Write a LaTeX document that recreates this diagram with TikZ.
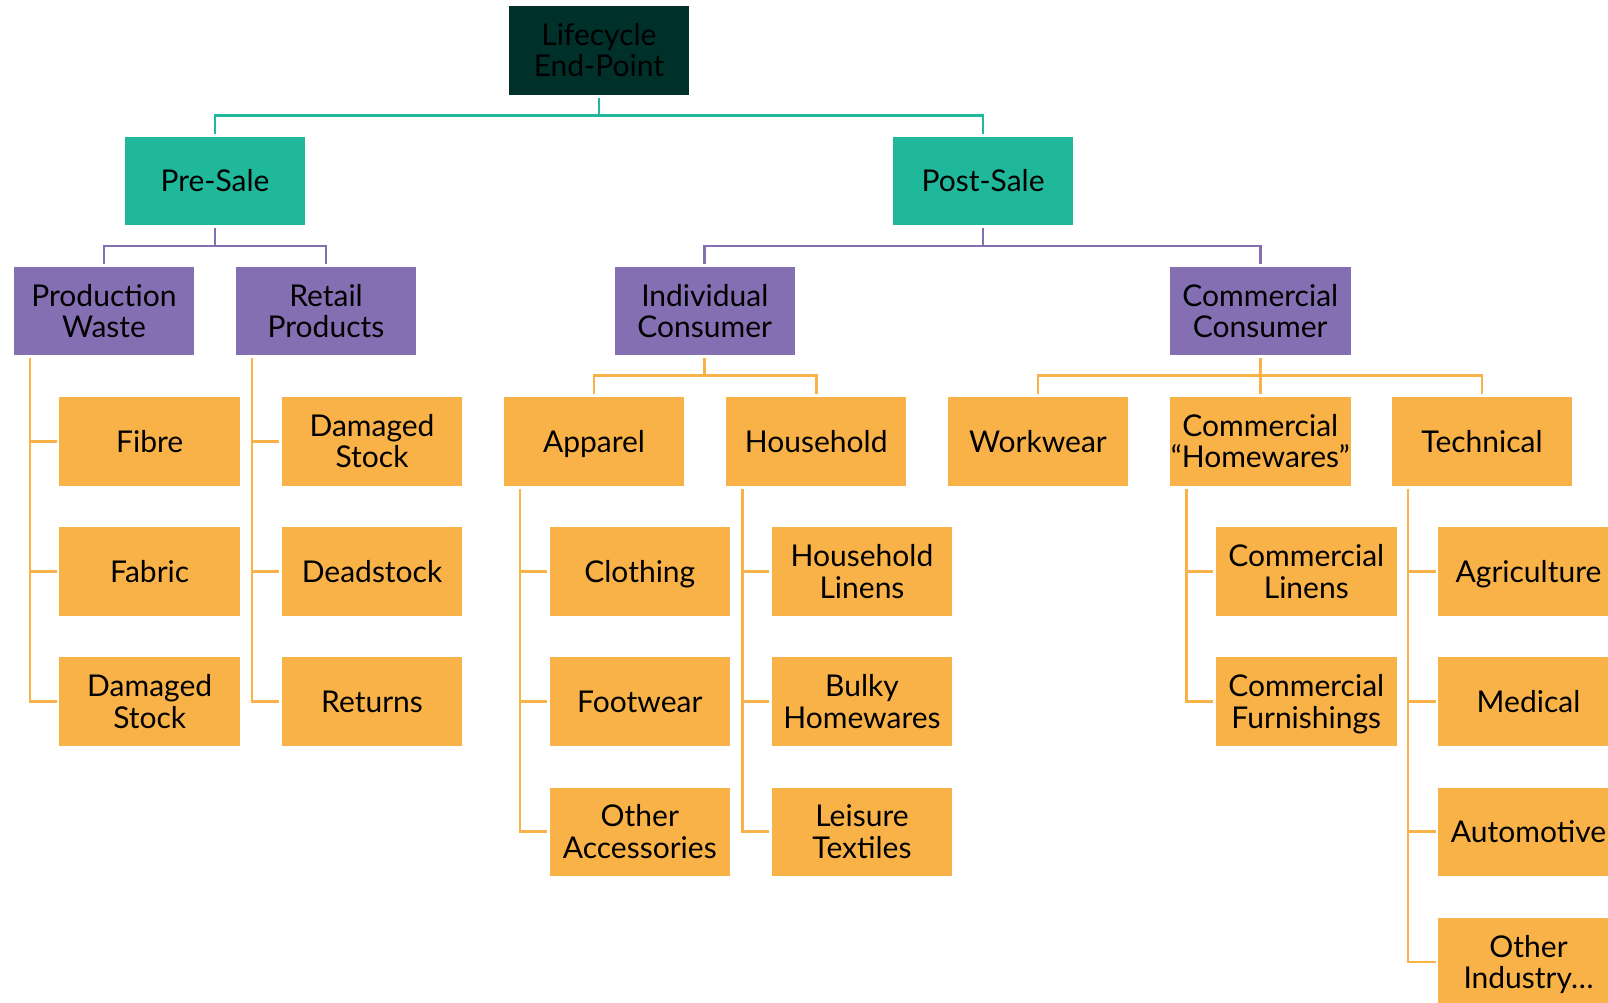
\documentclass[tikz,border=0pt]{standalone}
\usepackage{fontspec}
\setmainfont{Lato}
\definecolor{darkgreen}{HTML}{00302A}
\definecolor{tealc}{HTML}{20B89B}
\definecolor{purplec}{HTML}{836FB1}
\definecolor{orangec}{HTML}{F9B248}
\tikzset{
  box/.style={rectangle, minimum width=180.5pt, minimum height=88.5pt, inner sep=0pt,
    align=center, text=black, font=\fontsize{30pt}{31.5pt}\selectfont,
    text height=53pt, text depth=0pt},
  single/.style={text height=21.5pt, text depth=0pt},
  rootbox/.style={box, fill=darkgreen},
  salebox/.style={box, single, fill=tealc},
  groupbox/.style={box, fill=purplec},
  itembox/.style={box, fill=orangec},
  link/.style={line width=2.7pt, shorten <=3pt, shorten >=2.5pt},
  tealline/.style={link, draw=tealc},
  purpleline/.style={link, draw=purplec},
  orangeline/.style={link, draw=orangec},
}
\begin{document}
\begin{tikzpicture}[x=1pt, y=-1pt]
\useasboundingbox (0,0) rectangle (1608,1003);
\clip (0,0) rectangle (1608,1003);
\fill[white] (0,0) rectangle (1608,1003);

% top levels
\node[rootbox] (life) at (598.9,50.5) {Lifecycle\\End-Point};
\node[salebox] (pre) at (215,180.8) {Pre-Sale};
\node[salebox] (post) at (983,180.8) {Post-Sale};

\node[groupbox] (prod) at (104,311) {Production\\Waste};
\node[groupbox] (retail) at (326,311) {Retail\\Products};
\node[groupbox] (indiv) at (704.8,311) {Individual\\Consumer};
\node[groupbox] (comm) at (1260.3,311) {Commercial\\Consumer};

% production waste and retail products items
\node[itembox, single] (fibre) at (149.7,441.3) {Fibre};
\node[itembox, single] (fabric) at (149.7,571.5) {Fabric};
\node[itembox] (dmgA) at (149.7,701.6) {Damaged\\Stock};
\node[itembox] (dmgB) at (372,441.3) {Damaged\\Stock};
\node[itembox, single] (dead) at (372,571.5) {Deadstock};
\node[itembox, single] (ret) at (372,701.6) {Returns};

% individual consumer branch
\node[itembox, single] (app) at (594,441.3) {Apparel};
\node[itembox, single] (hh) at (816.2,441.3) {Household};
\node[itembox, single] (cloth) at (639.8,571.5) {Clothing};
\node[itembox, single] (foot) at (639.8,701.6) {Footwear};
\node[itembox] (acc) at (639.8,831.8) {Other\\Accessories};
\node[itembox] (hhlin) at (862,571.5) {Household\\Linens};
\node[itembox] (bulky) at (862,701.6) {Bulky\\Homewares};
\node[itembox] (leis) at (862,831.8) {Leisure\\Textiles};

% commercial consumer branch
\node[itembox, single] (work) at (1038,441.3) {Workwear};
\node[itembox] (chome) at (1260.3,441.3) {Commercial\\“Homewares”};
\node[itembox, single] (tech) at (1482,441.3) {Technical};
\node[itembox] (clin) at (1306.3,571.5) {Commercial\\Linens};
\node[itembox] (cfurn) at (1306.3,701.6) {Commercial\\Furnishings};
\node[itembox, single] (agri) at (1528.5,571.5) {Agriculture};
\node[itembox, single] (med) at (1528.5,701.6) {Medical};
\node[itembox, single] (auto) at (1528.5,831.8) {Automotive};
\node[itembox] (other) at (1528.5,962) {Other\\Industry…};

% bus connectors
\draw[tealline] (life.south) -- (life.south |- 0,115.5) -| (pre.north);
\draw[tealline] (life.south) -- (life.south |- 0,115.5) -| (post.north);
\draw[purpleline] (pre.south) -- (pre.south |- 0,246) -| (prod.north);
\draw[purpleline] (pre.south) -- (pre.south |- 0,246) -| (retail.north);
\draw[purpleline] (post.south) -- (post.south |- 0,246) -| (indiv.north);
\draw[purpleline] (post.south) -- (post.south |- 0,246) -| (comm.north);
\draw[orangeline] (indiv.south) -- (indiv.south |- 0,375.5) -| (app.north);
\draw[orangeline] (indiv.south) -- (indiv.south |- 0,375.5) -| (hh.north);
\draw[orangeline] (comm.south) -- (comm.south |- 0,375.5) -| (work.north);
\draw[orangeline] (comm.south) -- (comm.south |- 0,375.5) -| (chome.north);
\draw[orangeline] (comm.south) -- (comm.south |- 0,375.5) -| (tech.north);

% side connectors
\foreach \p/\kids in {prod/{fibre,fabric,dmgA}, retail/{dmgB,dead,ret},
    app/{cloth,foot,acc}, hh/{hhlin,bulky,leis}, chome/{clin,cfurn},
    tech/{agri,med,auto,other}} {
  \foreach \k in \kids {
    \draw[orangeline] ([xshift=16.5pt]\p.south west) |- (\k.west);
  }
}
\end{tikzpicture}
\end{document}
